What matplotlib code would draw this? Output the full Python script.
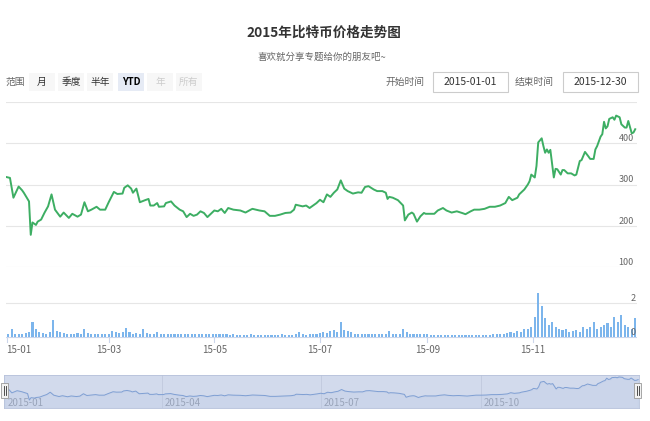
import matplotlib
matplotlib.use("Agg")
import matplotlib.pyplot as plt
from matplotlib.patches import Rectangle
import matplotlib.transforms as mtransforms
import numpy as np
import pandas as pd

plt.rcParams['font.family'] = ['Noto Sans CJK SC', 'DejaVu Sans']

# ---------------- data ----------------
title = "2015年比特币价格走势图"
subtitle = "喜欢就分享专题给你的朋友吧~"
range_label = "范围"
range_buttons = ["月", "季度", "半年", "YTD", "年", "所有"]
start_label, start_value = "开始时间", "2015-01-01"
end_label, end_value = "结束时间", "2015-12-30"

# price: day offset from 2015-01-01, close price (USD)
price_days = [0, 2, 4, 7, 9, 10, 12, 13, 14, 15, 17, 18, 20, 22, 24, 26, 28, 31, 33, 36,
              38, 41, 43, 45, 47, 49, 52, 54, 57, 59, 62, 64, 67, 68, 70, 72, 73, 75, 77, 80,
              82, 83, 85, 87, 88, 91, 92, 95, 97, 100, 102, 104, 106, 108, 110, 112, 114, 116, 118, 120,
              122, 124, 126, 128, 131, 135, 138, 141, 142, 146, 149, 152, 155, 158, 161, 164, 166, 167, 169, 171,
              173, 175, 177, 179, 181, 183, 185, 187, 189, 191, 193, 195, 197, 200, 203, 205, 207, 209, 212, 214,
              217, 219, 220, 221, 223, 226, 229, 230, 232, 234, 235, 237, 239, 241, 242, 245, 247, 249, 252, 254,
              257, 260, 263, 265, 268, 270, 273, 276, 279, 282, 285, 288, 290, 292, 295, 296, 299, 301, 302, 303,
              305, 306, 307, 309, 310, 311, 312, 313, 314, 316, 317, 318, 320, 321, 322, 324, 326, 328, 329, 331,
              332, 333, 334, 336, 337, 339, 340, 341, 343, 344, 345, 346, 347, 348, 350, 351, 352, 354, 355, 357,
              358, 359, 361, 362, 363]
price_vals = [318, 316, 268, 295, 286, 280, 266, 259, 178, 208, 202, 210, 215, 232, 247, 276, 239, 222, 232, 219,
              229, 222, 227, 257, 235, 239, 246, 239, 239, 257, 282, 277, 278, 292, 298, 290, 280, 290, 257, 262,
              265, 249, 249, 255, 246, 247, 255, 259, 249, 239, 235, 221, 229, 224, 227, 235, 231, 221, 229, 237,
              235, 241, 231, 243, 239, 237, 232, 239, 241, 237, 235, 224, 224, 227, 231, 232, 239, 251, 249, 247,
              249, 243, 249, 255, 263, 257, 276, 270, 280, 288, 310, 290, 284, 278, 281, 280, 294, 296, 288, 284,
              284, 280, 265, 270, 268, 262, 249, 213, 227, 232, 229, 210, 223, 231, 229, 229, 229, 237, 243, 237,
              232, 235, 231, 228, 235, 239, 239, 241, 246, 246, 249, 255, 270, 262, 268, 276, 288, 300, 308, 324,
              317, 345, 402, 412, 393, 377, 385, 377, 384, 317, 338, 337, 324, 335, 335, 327, 327, 322, 324, 357,
              359, 369, 379, 368, 362, 362, 385, 393, 416, 422, 452, 436, 441, 459, 463, 457, 467, 463, 446, 438,
              438, 454, 424, 426, 434]

# volume: one value every 2 days starting 2015-01-01
volume_vals = [0.2, 0.45, 0.2, 0.15, 0.2, 0.25, 0.3, 0.9, 0.5, 0.3, 0.25, 0.2, 0.3, 1.0, 0.35, 0.3,
               0.25, 0.2, 0.2, 0.2, 0.25, 0.2, 0.45, 0.25, 0.2, 0.15, 0.15, 0.2, 0.15, 0.2,
               0.35, 0.3, 0.25, 0.3, 0.55, 0.3, 0.2, 0.25, 0.2, 0.5, 0.25, 0.2, 0.2, 0.3, 0.2,
               0.2, 0.15, 0.2, 0.15, 0.2, 0.15, 0.15, 0.2, 0.15, 0.2, 0.2, 0.15, 0.15, 0.2, 0.15,
               0.15, 0.2, 0.15, 0.15, 0.1, 0.15, 0.12, 0.1, 0.12, 0.1, 0.15, 0.1, 0.1, 0.12, 0.1, 0.12,
               0.1, 0.12, 0.1, 0.15, 0.12, 0.1, 0.1, 0.15, 0.3, 0.15, 0.12, 0.15, 0.2, 0.15, 0.25,
               0.3, 0.25, 0.35, 0.4, 0.3, 0.9, 0.4, 0.35, 0.3, 0.2, 0.2, 0.15, 0.2, 0.15, 0.2,
               0.15, 0.2, 0.15, 0.2, 0.35, 0.2, 0.15, 0.2, 0.5, 0.3, 0.2, 0.15, 0.15, 0.2, 0.15, 0.15,
               0.12, 0.1, 0.12, 0.1, 0.12, 0.1, 0.1, 0.12, 0.1, 0.1, 0.12, 0.1, 0.1, 0.12, 0.1,
               0.1, 0.12, 0.12, 0.15, 0.2, 0.15, 0.2, 0.25, 0.3, 0.25, 0.35, 0.3, 0.45, 0.5, 0.6,
               1.2, 2.6, 1.8, 1.1, 0.7, 0.9, 0.6, 0.5, 0.4, 0.5, 0.3, 0.35, 0.4, 0.3, 0.6,
               0.5, 0.6, 0.9, 0.5, 0.6, 0.7, 0.8, 0.6, 1.2, 0.9, 1.3, 0.7, 0.6, 0.5, 1.1]
volume_step = 2

main_ticks = ["2015-01-01", "2015-03-01", "2015-05-01", "2015-07-01", "2015-09-01", "2015-11-01"]
main_tick_labels = ["15-01", "15-03", "15-05", "15-07", "15-09", "15-11"]
nav_ticks = ["2015-01-01", "2015-04-01", "2015-07-01", "2015-10-01"]
nav_tick_labels = ["2015-01", "2015-04", "2015-07", "2015-10"]
price_grid = [100, 200, 300, 400, 500]
price_labels = [100, 200, 300, 400]
vol_grid = [2]
vol_labels = [0, 2]

# ---------------- figure ----------------
W, H = 650, 421
fig = plt.figure(figsize=(W / 100, H / 100), dpi=100)
fig.patch.set_facecolor("white")


def fx(px):
    return px / W


def fy(py):
    return 1 - py / H


def box(x0, y0, x1, y1):
    return [fx(x0), fy(y1), fx(x1) - fx(x0), fy(y0) - fy(y1)]


def doy(s):
    return (pd.Timestamp(s) - pd.Timestamp("2015-01-01")).days


# Titles
fig.text(fx(324), fy(33), title, ha="center", va="center", fontsize=9.8,
         fontweight="bold", color="#333333")
fig.text(fx(322), fy(57), subtitle, ha="center", va="center", fontsize=6.8, color="#666666")

# Range selector
fig.text(fx(5), fy(82), range_label, ha="left", va="center", fontsize=7, color="#666666")
btn_centers = [42, 71, 100, 131, 160, 189]
for i, (lab, cx) in enumerate(zip(range_buttons, btn_centers)):
    if lab == "YTD":
        fc, tc, fw = "#e6ebf5", "#000000", "bold"
    elif i >= 4:
        fc, tc, fw = "#f7f7f7", "#cccccc", "normal"
    else:
        fc, tc, fw = "#f7f7f7", "#333333", "normal"
    fig.patches.append(Rectangle((fx(cx - 13), fy(91)), fx(26), fy(73) - fy(91),
                                 transform=fig.transFigure, facecolor=fc, edgecolor="none"))
    fig.text(fx(cx), fy(82), lab, ha="center", va="center", fontsize=7, color=tc, fontweight=fw)

# Date inputs
for lab, val, lx, bx0, bx1 in [(start_label, start_value, 425, 433, 508),
                                (end_label, end_value, 554, 563, 638)]:
    fig.text(fx(lx), fy(82), lab, ha="right", va="center", fontsize=7, color="#666666")
    fig.patches.append(Rectangle((fx(bx0), fy(92)), fx(bx1 - bx0), fy(72) - fy(92),
                                 transform=fig.transFigure, facecolor="white",
                                 edgecolor="#cccccc", linewidth=0.8))
    fig.text(fx((bx0 + bx1) / 2), fy(82), val, ha="center", va="center", fontsize=7.5,
             color="#333333")

# x scale: px = 6.5 + 1.732 * day
x_left, x_right = 6, 637
d0 = (x_left - 6.5) / 1.732
d1 = (x_right - 6.5) / 1.732

pdays = np.array(price_days)
pvals = np.array(price_vals)

# Price pane
axp = fig.add_axes(box(x_left, 102, x_right, 267))
axp.set_xlim(d0, d1)
axp.set_ylim(100, 500)
for g in price_grid:
    axp.axhline(g, color="#e6e6e6", lw=0.8, zorder=0)
axp.plot(pdays, pvals, color="#3dae63", lw=1.4, solid_joinstyle="round", zorder=3)
axp.axis("off")
tr = mtransforms.blended_transform_factory(axp.transAxes, axp.transData)
for v in price_labels:
    axp.text(0.995, v, str(v), transform=tr, ha="right", va="bottom", fontsize=6.5,
             color="#666666")

# Volume pane
vdays = np.arange(len(volume_vals)) * volume_step
axv = fig.add_axes(box(x_left, 269, x_right, 337))
axv.set_xlim(d0, d1)
axv.set_ylim(0, 4)
for g in vol_grid:
    axv.axhline(g, color="#e6e6e6", lw=0.8, zorder=0)
axv.bar(vdays + volume_step / 2, volume_vals, width=volume_step * 0.6, color="#7cb5ec",
        edgecolor="none", zorder=2)
axv.axis("off")
trv = mtransforms.blended_transform_factory(axv.transAxes, axv.transData)
for v in vol_labels:
    axv.text(0.998, v, str(v), transform=trv, ha="right", va="bottom", fontsize=6.5,
             color="#666666", zorder=4)

# x-axis line and ticks
axx = fig.add_axes(box(x_left, 337, x_right, 360))
axx.set_xlim(d0, d1)
axx.set_ylim(0, 1)
axx.axis("off")
axx.axhline(1, color="#ccd6eb", lw=0.8)
for i, (t, lab) in enumerate(zip(main_ticks, main_tick_labels)):
    d = doy(t)
    axx.plot([d, d], [1, 0.78], color="#ccd6eb", lw=0.8)
    axx.text(d if i > 0 else d - 0.2, 0.45, lab, ha="center" if i > 0 else "left",
             va="center", fontsize=7, color="#666666")

# Navigator
axn = fig.add_axes(box(4, 375, 639, 408))
axn.set_xlim(-0.5, 363.5)
axn.set_ylim(78, 492)
axn.set_facecolor("#d2daec")
for s in axn.spines.values():
    s.set_color("#b7c2db")
    s.set_linewidth(0.6)
axn.set_xticks([])
axn.set_yticks([])
for t, lab in zip(nav_ticks, nav_tick_labels):
    d = doy(t)
    if d > 0:
        axn.axvline(d, color="#c3cbdf", lw=0.7, zorder=1)
    axn.text(d + 1.5, 0.14, lab, transform=mtransforms.blended_transform_factory(
        axn.transData, axn.transAxes), ha="left", va="center", fontsize=7, color="#8f98ab",
        zorder=2)
axn.fill_between(pdays, pvals, 78, color="#b8c8e6", alpha=0.25, zorder=2)
axn.plot(pdays, pvals, color="#7f9fd3", lw=0.7, zorder=3)

# Navigator handles
for hx in [4, 637]:
    fig.patches.append(Rectangle((fx(hx - 3), fy(398)), fx(7), fy(383) - fy(398),
                                 transform=fig.transFigure, facecolor="#f2f2f2",
                                 edgecolor="#999999", linewidth=0.6, zorder=5))
    fig.lines.append(plt.Line2D([fx(hx), fx(hx)], [fy(395), fy(386)], transform=fig.transFigure,
                                color="#333333", lw=0.6, zorder=6))
    fig.lines.append(plt.Line2D([fx(hx + 2), fx(hx + 2)], [fy(395), fy(386)],
                                transform=fig.transFigure, color="#333333", lw=0.6, zorder=6))

fig.savefig("out.png", dpi=100, facecolor="white")
